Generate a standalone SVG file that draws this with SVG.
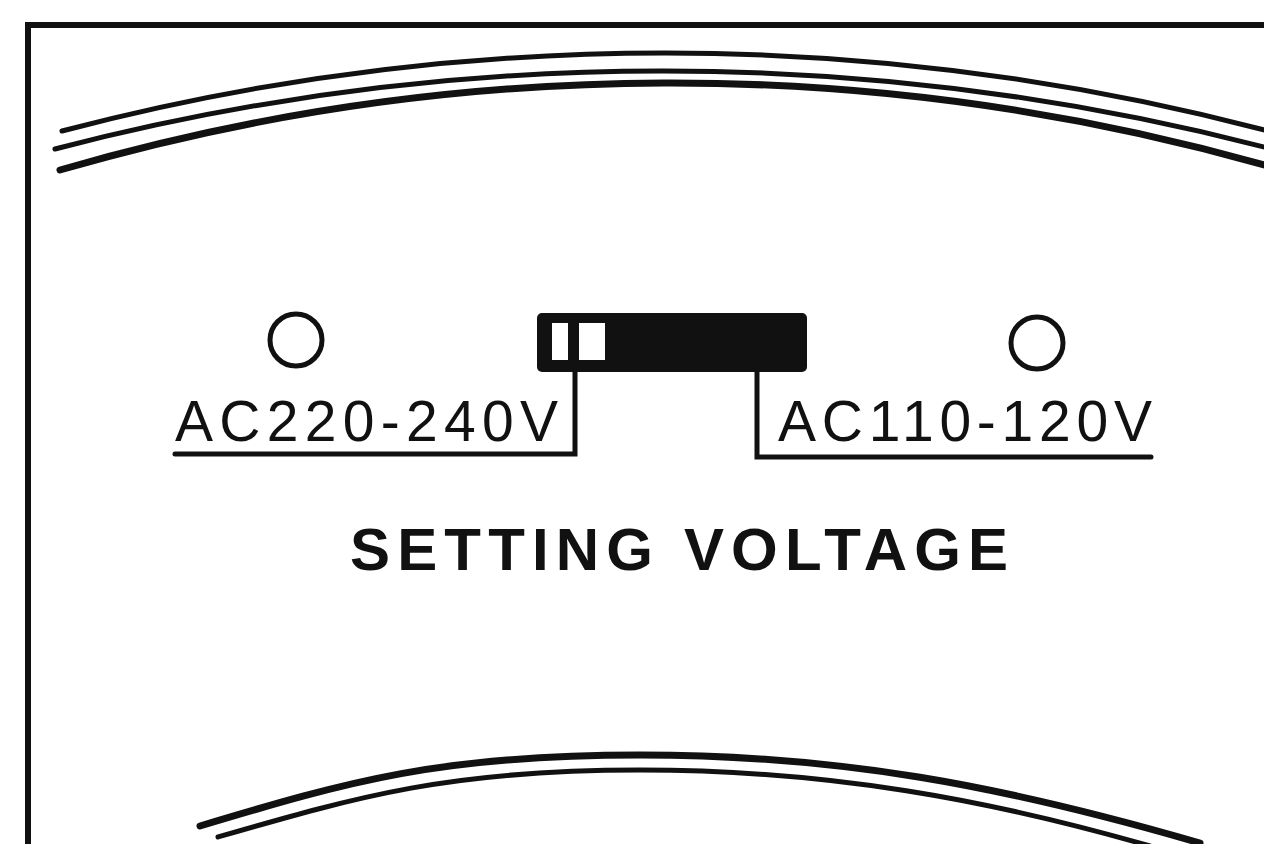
<svg xmlns="http://www.w3.org/2000/svg" width="1264" height="844" viewBox="0 0 1264 844">
<style>
.ln{fill:none;stroke:#111;stroke-linecap:round;stroke-linejoin:miter}
.lbl{font-family:"Liberation Sans",Arial,sans-serif;font-size:57px;fill:#111}
.ttl{font-family:"Liberation Sans",Arial,sans-serif;font-size:60px;font-weight:bold;fill:#111}
</style>
<rect width="1264" height="844" fill="#fff"/>
<g id="frame">
<path class="ln" d="M28,850 L28,25 L1270,25" stroke-width="6" stroke-linecap="butt"/>
</g>
<g id="top-arcs">
<path class="ln" d="M62,131 A2369,2369 0 0 1 1268,131" stroke-width="5"/>
<path class="ln" d="M55,149 A2411,2411 0 0 1 1268,148" stroke-width="5"/>
<path class="ln" d="M60,170 A2187,2187 0 0 1 1268,166" stroke-width="7"/>
</g>
<g id="bottom-arcs">
<path class="ln" d="M200,826 C350,781 440,755 640,755 C840,755 1000,785 1200,843" stroke-width="7"/>
<path class="ln" d="M218,837 C360,796 450,770 640,770 C830,770 990,800 1150,846" stroke-width="5"/>
</g>
<g id="switch">
<rect x="537" y="313" width="270" height="59" rx="5" fill="#111"/>
<rect x="552" y="323" width="16" height="37" fill="#fff"/>
<rect x="579" y="323" width="26" height="37" fill="#fff"/>
</g>
<g id="lamp-220">
<circle cx="296" cy="340" r="26" fill="none" stroke="#111" stroke-width="5"/>
</g>
<g id="lamp-110">
<circle cx="1037" cy="343" r="26" fill="none" stroke="#111" stroke-width="5"/>
</g>
<g id="connectors">
<path class="ln" d="M575,370 L575,454 L175,454" stroke-width="5" stroke-linecap="butt"/>
<path class="ln" d="M757,370 L757,457 L1151,457" stroke-width="5" stroke-linecap="butt"/>
</g>
<g id="label-220">
<text class="lbl" x="175" y="441" textLength="383" lengthAdjust="spacing">AC220-240V</text>
</g>
<g id="label-110">
<text class="lbl" x="778" y="441" textLength="374" lengthAdjust="spacing">AC110-120V</text>
</g>
<g id="title">
<text class="ttl" x="350" y="570" textLength="658" lengthAdjust="spacing">SETTING VOLTAGE</text>
</g>
</svg>
